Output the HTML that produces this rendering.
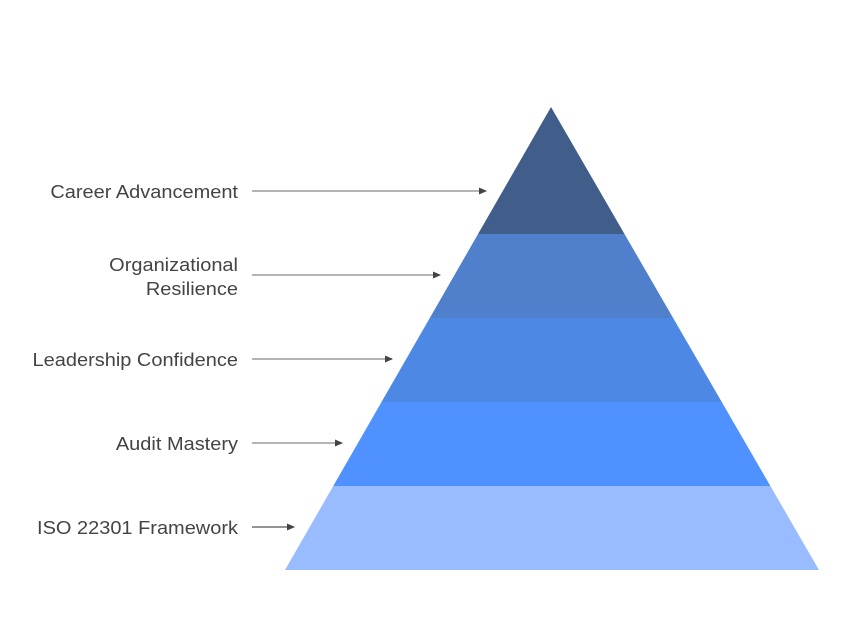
<!DOCTYPE html>
<html><head><style>body{margin:0;background:#fff}</style></head><body>
<svg width="843" height="618" xmlns="http://www.w3.org/2000/svg" style="display:block">
<defs><clipPath id="p"><polygon points="551,107 285,570 819,570"/></clipPath>
<marker id="a" markerWidth="8" markerHeight="8" refX="7" refY="4" orient="auto" markerUnits="userSpaceOnUse"><path d="M0,0.5 L8,4 L0,7.5Z" fill="#444"/></marker></defs>
<g clip-path="url(#p)">
<rect x="280" y="100" width="545" height="134" fill="#415D8A"/>
<rect x="280" y="234" width="545" height="84" fill="#5080CB"/>
<rect x="280" y="318" width="545" height="84" fill="#4D88E5"/>
<rect x="280" y="402" width="545" height="84" fill="#4F92FF"/>
<rect x="280" y="486" width="545" height="84" fill="#98BCFF"/>
</g>
<g stroke="#888" stroke-width="1.2" marker-end="url(#a)">
<line x1="252" y1="191" x2="486" y2="191"/>
<line x1="252" y1="275" x2="440" y2="275"/>
<line x1="252" y1="359" x2="392" y2="359"/>
<line x1="252" y1="443" x2="342" y2="443"/>
<line x1="252" y1="527" x2="294" y2="527" stroke="#555"/>
</g>
<g font-family="Liberation Sans, sans-serif" font-size="18.5" fill="#444" text-anchor="end" transform="translate(238,0) scale(1.08,1) translate(-238,0)">
<text x="238" y="198">Career Advancement</text>
<text x="238" y="271">Organizational</text>
<text x="238" y="295">Resilience</text>
<text x="238" y="366">Leadership Confidence</text>
<text x="238" y="450">Audit Mastery</text>
<text x="238" y="534">ISO 22301 Framework</text>
</g>
</svg>
</body></html>
